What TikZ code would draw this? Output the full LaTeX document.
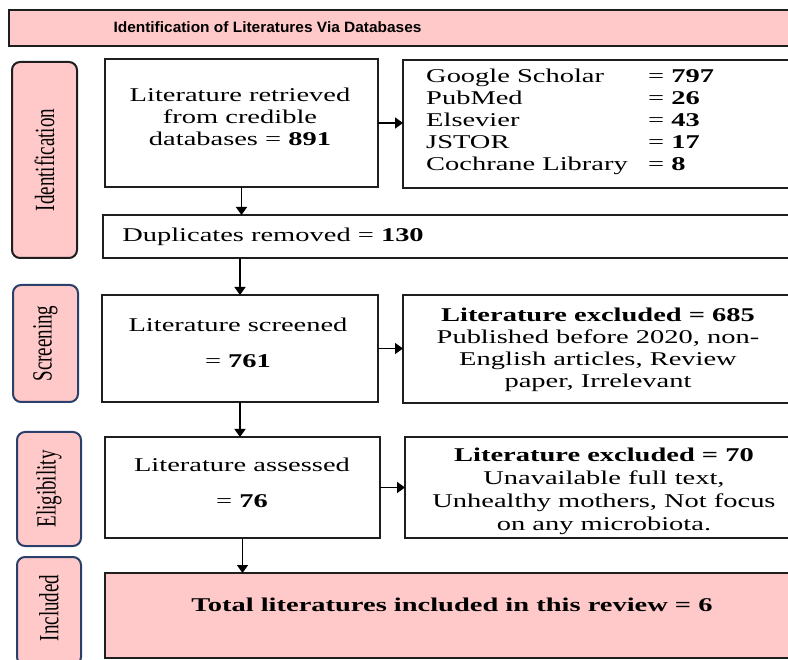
\documentclass[tikz,border=0pt]{standalone}
\usepackage{fontspec}
\setmainfont[FakeStretch=1.46]{Liberation Serif}
\newfontfamily\plainserif{Liberation Serif}
\newfontfamily\titlefont[FakeStretch=1.03]{Liberation Sans}
\usetikzlibrary{arrows.meta}
\definecolor{pinkfill}{HTML}{FFC9C9}
\definecolor{navy}{HTML}{2A3F6A}
\definecolor{boxline}{HTML}{1E1E1E}
\begin{document}
\begin{tikzpicture}[x=1pt,y=-1pt,
  box/.style={draw=boxline, line width=2.6pt, fill=white, anchor=north west, inner sep=0pt, outer sep=0pt},
  lab/.style={line width=2pt, fill=pinkfill, rounded corners=8pt, anchor=north west, inner sep=0pt, outer sep=0pt},
  txt/.style={font=\fontsize{19.5}{22}\selectfont, align=center, inner sep=0pt},
  labtxt/.style={rotate=90, inner sep=0pt, font=\plainserif\fontsize{19}{22}\selectfont},
  arr/.style={-{Triangle[length=8pt,width=11pt]}, line width=1.6pt, draw=black}]
\useasboundingbox (0,0) rectangle (788,660);
\clip (0,0) rectangle (788,660);
% title
\node[box, fill=pinkfill, minimum width=790pt, minimum height=36pt] (title) at (9,10) {};
\node[inner sep=0pt, font=\titlefont\bfseries\fontsize{15}{17}\selectfont] (titletxt) at (267.5,27.5) {Identification of Literatures Via Databases};
% side labels
\node[lab, draw=boxline, minimum width=65pt, minimum height=196pt] (lid) at (12,62) {};
\node[labtxt] (lidt) at (44.5,160) {\scalebox{1}[1.46]{Identification}};
\node[lab, draw=navy, minimum width=65pt, minimum height=117pt] (lsc) at (13,285) {};
\node[labtxt] (lsct) at (45.5,343.5) {\scalebox{1}[1.46]{Screening}};
\node[lab, draw=navy, minimum width=64pt, minimum height=114pt] (lel) at (17,432) {};
\node[labtxt] (lelt) at (49,489) {\scalebox{1}[1.46]{Eligibility}};
\node[lab, draw=navy, minimum width=64pt, minimum height=108pt] (lin) at (17,557) {};
\node[labtxt] (lint) at (49,608) {\scalebox{1}[1.46]{Included}};
% boxes
\node[box, minimum width=273pt, minimum height=128pt] (b1) at (105,59) {};
\node[txt] (b1t) at (240,117) {Literature retrieved\\from credible\\databases = \textbf{891}};
\node[box, minimum width=400pt, minimum height=128pt] (db) at (403,60) {};
\node[txt, align=left, anchor=west] (dbt) at (426,122) {%
\makebox[222pt][l]{Google Scholar}= \textbf{797}\\
\makebox[222pt][l]{PubMed}= \textbf{26}\\
\makebox[222pt][l]{Elsevier}= \textbf{43}\\
\makebox[222pt][l]{JSTOR}= \textbf{17}\\
\makebox[222pt][l]{Cochrane Library}= \textbf{8}};
\node[box, minimum width=700pt, minimum height=43pt] (dup) at (103,215) {};
\node[txt] (dupt) at (273,236.5) {Duplicates removed = \textbf{130}};
\node[box, minimum width=276pt, minimum height=107pt] (scr) at (102,295) {};
\node[txt] (scrt) at (238,343) {Literature screened\\[14pt]= \textbf{761}};
\node[box, minimum width=400pt, minimum height=108pt] (ex1) at (403,295) {};
\node[txt] (ex1t) at (598,350) {\textbf{Literature excluded = 685}\\Published before 2020, non-\\English articles, Review\\paper, Irrelevant};
\node[box, minimum width=275pt, minimum height=101pt] (as) at (105,437) {};
\node[txt] (ast) at (242,483) {Literature assessed\\[14pt]= \textbf{76}};
\node[box, minimum width=400pt, minimum height=101pt] (ex2) at (405,437) {};
\node[txt, font=\fontsize{19.5}{23}\selectfont] (ex2t) at (604,491) {\textbf{Literature excluded = 70}\\Unavailable full text,\\Unhealthy mothers, Not focus\\on any microbiota.};
\node[box, fill=pinkfill, minimum width=700pt, minimum height=85pt] (tot) at (105,573) {};
\node[txt] (tott) at (452,605) {\textbf{Total literatures included in this review = 6}};
% arrows
\draw[arr] (b1.east) -- (b1.east -| db.west);
\draw[arr] (b1.south) -- (b1.south |- dup.north);
\draw[arr] (scr.north |- dup.south) -- (scr.north);
\draw[arr] (scr.east) -- (scr.east -| ex1.west);
\draw[arr] (scr.south) -- (scr.south |- as.north);
\draw[arr] (as.east) -- (as.east -| ex2.west);
\draw[arr] (as.south) -- (as.south |- tot.north);
\end{tikzpicture}
\end{document}
